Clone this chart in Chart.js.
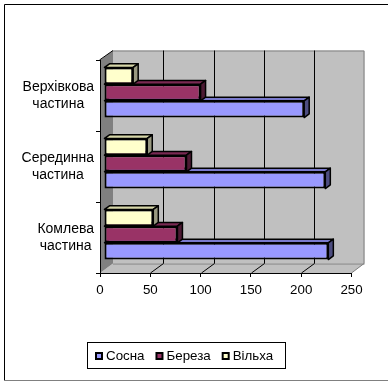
<!DOCTYPE html>
<html lang="uk">
<head>
<meta charset="utf-8">
<title>Сосна, Береза, Вільха</title>
<script src="https://cdn.jsdelivr.net/npm/chart.js@4.4.1/dist/chart.umd.min.js"></script>
<style>
  html, body { margin: 0; padding: 0; background: #fff; }
  #wrap { width: 388px; height: 381px; }
</style>
</head>
<body>
<div id="wrap"><canvas id="c" width="388" height="381"></canvas></div>
<script>
// Частини стовбура, зверху вниз
const categories = [['Верхівкова', 'частина'], ['Серединна', 'частина'], ['Комлева', 'частина']];
const seriesNames = ['Сосна', 'Береза', 'Вільха'];
const sosnaValues = [199, 220, 223];
const berezaValues = [96, 82, 73];
const vilkhaValues = [29, 43, 49];
const valueTicks = [0, 50, 100, 150, 200, 250];

const seriesValues = { 'Сосна': sosnaValues, 'Береза': berezaValues, 'Вільха': vilkhaValues };

// Кольори граней: лицьова, верхня, бічна
const palette = {
  'Сосна':  { front: '#9999ff', top: '#7a7acc', side: '#4d4d80' },
  'Береза': { front: '#993366', top: '#7a2952', side: '#4d1a33' },
  'Вільха': { front: '#ffffcc', top: '#d6d6a8', side: '#999980' }
};

// Об'ємна сцена: глибина стін і стовпчиків
const WALL_DX = 13, WALL_DY = -9.5;
const BAR_SHIFT_X = 4, BAR_SHIFT_Y = -3;
const BAR_DX = 5, BAR_DY = -3.7;
const FONT = '"Liberation Sans", Arial, sans-serif';
const FONT_SIZE = 13.33;
const LABEL_FONT_SIZE = 14;
const LABEL_LINE = 17.3;
const Y_TICK_LEN = 4, Y_LABEL_PAD = 2;

Chart.defaults.font.family = FONT;
Chart.defaults.font.size = FONT_SIZE;
Chart.defaults.color = '#000';

function poly(ctx, pts) {
  ctx.beginPath();
  ctx.moveTo(pts[0][0], pts[0][1]);
  for (let i = 1; i < pts.length; i++) ctx.lineTo(pts[i][0], pts[i][1]);
  ctx.closePath();
}

// Стіни, підлога, лінії сітки, грані стовпчиків, підписи категорій і легенда
const wallsPlugin = {
  id: 'walls',
  beforeDraw(chart) {
    const { ctx, chartArea: a } = chart;
    const xs = chart.scales.x;
    ctx.save();
    ctx.fillStyle = '#fff';
    ctx.fillRect(0, 0, chart.width, chart.height);

    const bl = a.left + WALL_DX, bt = a.top + WALL_DY;
    const br = a.right + WALL_DX, bb = a.bottom + WALL_DY;

    // задня стіна
    ctx.fillStyle = '#c0c0c0';
    ctx.fillRect(bl, bt, br - bl, bb - bt);
    // підлога
    poly(ctx, [[a.left, a.bottom], [a.right, a.bottom], [br, bb], [bl, bb]]);
    ctx.fillStyle = '#c0c0c0';
    ctx.fill();
    // бічна стіна
    poly(ctx, [[a.left, a.top], [bl, bt], [bl, bb], [a.left, a.bottom]]);
    ctx.fillStyle = '#808080';
    ctx.fill();

    // контури
    ctx.lineWidth = 1;
    ctx.strokeStyle = '#808080';
    ctx.beginPath();
    ctx.moveTo(bl, bt + 0.5); ctx.lineTo(br - 0.5, bt + 0.5); ctx.lineTo(br - 0.5, bb);
    ctx.lineTo(a.right, a.bottom);
    ctx.moveTo(bl, bb + 0.5); ctx.lineTo(br, bb + 0.5);
    ctx.stroke();
    ctx.strokeStyle = '#000';
    ctx.beginPath();
    ctx.moveTo(a.left - 0.5, a.top); ctx.lineTo(bl, bt);
    ctx.stroke();

    // лінії сітки на задній стіні та на підлозі
    ctx.strokeStyle = '#000';
    ctx.beginPath();
    valueTicks.slice(1, -1).forEach(v => {
      const px = Math.round(xs.getPixelForValue(v)) + 0.5;
      ctx.moveTo(px + WALL_DX, bt);
      ctx.lineTo(px + WALL_DX, bb);
      ctx.moveTo(px, a.bottom);
      ctx.lineTo(px + WALL_DX, bb);
    });
    ctx.stroke();
    ctx.restore();
  },
  beforeDatasetDraw(chart) {
    chart.ctx.save();
    chart.ctx.translate(BAR_SHIFT_X, BAR_SHIFT_Y);
  },
  afterDatasetDraw(chart, args) {
    const ctx = chart.ctx;
    const colors = palette[chart.data.datasets[args.index].label];
    ctx.lineWidth = 1.5;
    ctx.strokeStyle = '#000';
    ctx.lineJoin = 'round';
    args.meta.data.forEach(el => {
      const { x: end, y, base, height } = el.getProps(['x', 'y', 'base', 'height'], true);
      const top = y - height / 2, bottom = y + height / 2;
      poly(ctx, [[base, top], [base + BAR_DX, top + BAR_DY], [end + BAR_DX, top + BAR_DY], [end, top]]);
      ctx.fillStyle = colors.top;
      ctx.fill();
      ctx.stroke();
      poly(ctx, [[end, top], [end + BAR_DX, top + BAR_DY], [end + BAR_DX, bottom + BAR_DY], [end, bottom]]);
      ctx.fillStyle = colors.side;
      ctx.fill();
      ctx.stroke();
    });
    ctx.restore();
  },
  afterDraw(chart) {
    const ctx = chart.ctx;
    const ys = chart.scales.y;
    ctx.save();
    ctx.fillStyle = '#000';

    // підписи категорій: блок притиснутий до осі, рядки по центру блоку
    ctx.font = LABEL_FONT_SIZE + 'px ' + FONT;
    ctx.textAlign = 'center';
    ctx.textBaseline = 'middle';
    const blockRight = chart.chartArea.left - Y_TICK_LEN - Y_LABEL_PAD;
    chart.data.labels.forEach((lines, i) => {
      const cy = ys.getPixelForTick(i);
      const w = Math.max(...lines.map(l => ctx.measureText(l).width));
      const cx = blockRight - w / 2;
      const y0 = cy - (lines.length - 1) * LABEL_LINE / 2;
      lines.forEach((l, k) => ctx.fillText(l, cx, y0 + k * LABEL_LINE));
    });

    // легенда
    ctx.font = FONT_SIZE + 'px ' + FONT;
    const LEGEND_CX = 184, LEGEND_CY = 355.5;
    const MARK = 8, GAP = 3, ITEM_GAP = 11;
    const widths = seriesNames.map(n => ctx.measureText(n).width);
    const total = widths.reduce((s, w) => s + MARK + GAP + w, 0) + ITEM_GAP * (seriesNames.length - 1);
    let x = Math.round(LEGEND_CX - total / 2);
    const boxL = x - 8, boxR = Math.round(x + total + 12);
    ctx.fillStyle = '#fff';
    ctx.fillRect(boxL, LEGEND_CY - 13, boxR - boxL, 26);
    ctx.strokeStyle = '#000';
    ctx.lineWidth = 1;
    ctx.strokeRect(boxL + 0.5, LEGEND_CY - 13, boxR - boxL, 26);
    ctx.textBaseline = 'middle';
    ctx.textAlign = 'left';
    seriesNames.forEach((n, i) => {
      const my = Math.round(LEGEND_CY - MARK / 2);
      ctx.fillStyle = '#000';
      ctx.fillRect(x, my, MARK, MARK);
      ctx.fillStyle = palette[n].front;
      ctx.fillRect(x + 2, my + 2, MARK - 4, MARK - 4);
      ctx.fillStyle = '#000';
      ctx.fillText(n, x + MARK + GAP, LEGEND_CY + 0.5);
      x += MARK + GAP + widths[i] + ITEM_GAP;
    });

    // рамка діаграми
    ctx.strokeStyle = '#000';
    ctx.beginPath();
    ctx.moveTo(4.5, 381); ctx.lineTo(4.5, 4.5); ctx.lineTo(388, 4.5);
    ctx.stroke();
    ctx.strokeStyle = '#808080';
    ctx.beginPath();
    ctx.moveTo(4, 380.5); ctx.lineTo(388, 380.5);
    ctx.stroke();
    ctx.restore();
  }
};

// Серії знизу вгору в межах групи: перша серія малюється найвище
const stackOrder = ['Вільха', 'Береза', 'Сосна'];
const datasets = stackOrder.map(name => ({
  label: name,
  data: seriesValues[name],
  backgroundColor: palette[name].front,
  borderColor: '#000',
  borderWidth: 2,
  borderSkipped: false,
  clip: false,
  categoryPercentage: 0.705,
  barPercentage: 1
}));

new Chart(document.getElementById('c'), {
  type: 'bar',
  data: { labels: categories, datasets },
  options: {
    indexAxis: 'y',
    responsive: false,
    devicePixelRatio: 1,
    animation: false,
    layout: { padding: { left: 4, top: 60, right: 36.5, bottom: 78 } },
    plugins: { legend: { display: false }, tooltip: { enabled: false } },
    scales: {
      x: {
        type: 'linear',
        min: 0,
        max: 250,
        afterBuildTicks: s => { s.ticks = valueTicks.map(v => ({ value: v })); },
        grid: { drawOnChartArea: false, drawTicks: true, tickLength: 4, color: '#000', lineWidth: 1 },
        border: { display: true, color: '#000', width: 1 },
        ticks: { color: '#000', padding: 5, maxRotation: 0, autoSkip: false },
        afterFit: s => { s.height = 30; }
      },
      y: {
        type: 'category',
        offset: true,
        grid: { drawOnChartArea: false, drawTicks: true, tickLength: Y_TICK_LEN, offset: true, color: '#000' },
        border: { display: true, color: '#000', width: 1 },
        ticks: { display: false },
        afterFit: s => { s.width = 96; }
      }
    }
  },
  plugins: [wallsPlugin]
});
</script>
</body>
</html>
